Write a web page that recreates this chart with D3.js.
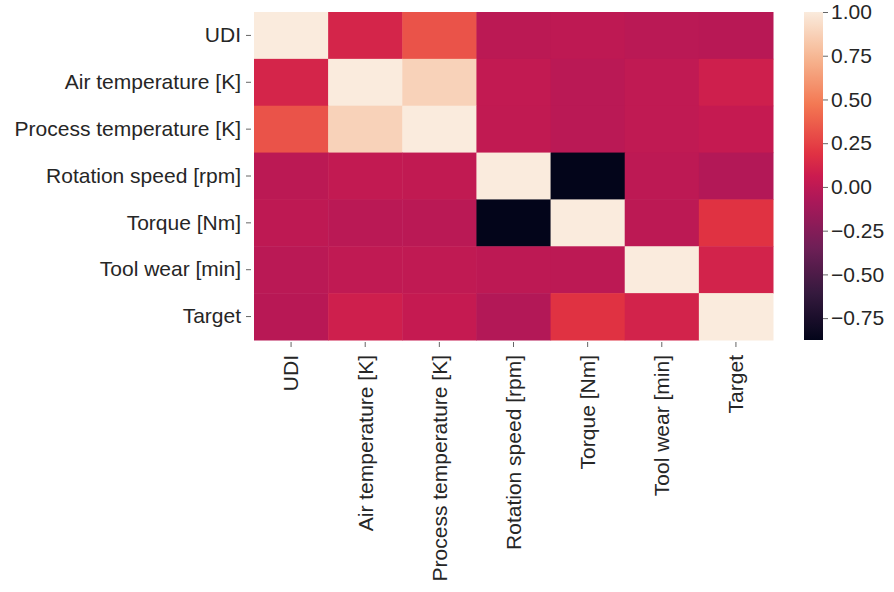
<!DOCTYPE html>
<html>
<head>
<meta charset="utf-8">
<script src="https://cdn.jsdelivr.net/npm/d3@7"></script>
<style>
  html, body { margin: 0; padding: 0; background: #fff; }
  svg text { font-family: "Liberation Sans", Arial, Helvetica, sans-serif; fill: #262626; }
</style>
</head>
<body>
<svg id="chart" width="894" height="592"></svg>
<script>
// Feature names (rows top to bottom, columns left to right)
const features = ["UDI", "Air temperature [K]", "Process temperature [K]",
  "Rotation speed [rpm]", "Torque [Nm]", "Tool wear [min]", "Target"];

// Pearson correlation of each feature with every feature, in the order above
const rowUDI      = [1.000, 0.118, 0.324, -0.007, 0.003, -0.011, -0.023];
const rowAir      = [0.118, 1.000, 0.876, 0.023, -0.014, 0.014, 0.083];
const rowProcess  = [0.324, 0.876, 1.000, 0.019, -0.014, 0.013, 0.036];
const rowRotation = [-0.007, 0.023, 0.019, 1.000, -0.875, 0.000, -0.044];
const rowTorque   = [0.003, -0.014, -0.014, -0.875, 1.000, -0.003, 0.191];
const rowToolWear = [-0.011, 0.014, 0.013, 0.000, -0.003, 1.000, 0.105];
const rowTarget   = [-0.023, 0.083, 0.036, -0.044, 0.191, 0.105, 1.000];
const matrix = [rowUDI, rowAir, rowProcess, rowRotation, rowTorque, rowToolWear, rowTarget];

// Colour bar tick values
const barTicks = [-0.75, -0.50, -0.25, 0.00, 0.25, 0.50, 0.75, 1.00];

// "rocket" colour map, piecewise between sampled stops
const rocketStops = [0, 0.143, 0.286, 0.429, 0.5, 0.571, 0.714, 0.857, 1];
const rocketColors = ["#03051a", "#35193e", "#701f57", "#ad1759", "#cb1b4f",
  "#e13342", "#f37651", "#f6b48f", "#faebdd"];
const rocket = d3.scaleLinear().domain(rocketStops).range(rocketColors)
  .interpolate(d3.interpolateRgb).clamp(true);

const allVals = matrix.flat();
const vmin = d3.min(allVals), vmax = d3.max(allVals);
const color = v => rocket((v - vmin) / (vmax - vmin));

const svg = d3.select("#chart");
const plotLeft = 254, plotRight = 773, plotTop = 12, plotBottom = 340;

const x = d3.scaleBand().domain(features).range([plotLeft, plotRight]);
const y = d3.scaleBand().domain(features).range([plotTop, plotBottom]);

const cells = [];
matrix.forEach((row, i) => row.forEach((v, j) => cells.push({ r: features[i], c: features[j], v })));

svg.append("g").selectAll("rect").data(cells).join("rect")
  .attr("x", d => x(d.c))
  .attr("y", d => y(d.r))
  .attr("width", x.bandwidth() + 0.5)
  .attr("height", y.bandwidth() + 0.5)
  .attr("fill", d => color(d.v));

const fontSize = 21;

// Left axis
const yAxis = svg.append("g").attr("transform", `translate(${plotLeft - 3},0)`)
  .call(d3.axisLeft(y).tickSize(5).tickPadding(5));
yAxis.select(".domain").remove();
yAxis.selectAll(".tick line").attr("stroke", "#666");
yAxis.selectAll(".tick text").attr("font-size", fontSize);

// Bottom axis with vertical labels
const xAxis = svg.append("g").attr("transform", `translate(0,${plotBottom + 2})`)
  .call(d3.axisBottom(x).tickSize(5).tickPadding(5));
xAxis.select(".domain").remove();
xAxis.selectAll(".tick line").attr("stroke", "#666");
xAxis.selectAll(".tick text")
  .attr("font-size", fontSize)
  .attr("transform", "rotate(-90)")
  .attr("text-anchor", "end")
  .attr("x", -13)
  .attr("y", 0)
  .attr("dy", "0.35em");

// Colour bar
const barX = 804, barW = 19;
const cbScale = d3.scaleLinear().domain([vmin, vmax]).range([plotBottom, plotTop]);
const grad = svg.append("defs").append("linearGradient")
  .attr("id", "cbgrad").attr("x1", 0).attr("y1", 1).attr("x2", 0).attr("y2", 0);
d3.range(0, 1.0001, 0.02).forEach(t => {
  grad.append("stop").attr("offset", t).attr("stop-color", rocket(t));
});
svg.append("rect")
  .attr("x", barX).attr("y", plotTop)
  .attr("width", barW).attr("height", plotBottom - plotTop)
  .attr("fill", "url(#cbgrad)");

const cbAxis = svg.append("g").attr("transform", `translate(${barX + barW},0)`)
  .call(d3.axisRight(cbScale).tickValues(barTicks).tickFormat(d3.format(".2f")).tickSize(5).tickPadding(3));
cbAxis.select(".domain").remove();
cbAxis.selectAll(".tick line").attr("stroke", "#666");
cbAxis.selectAll(".tick text").attr("font-size", fontSize);
</script>
</body>
</html>
